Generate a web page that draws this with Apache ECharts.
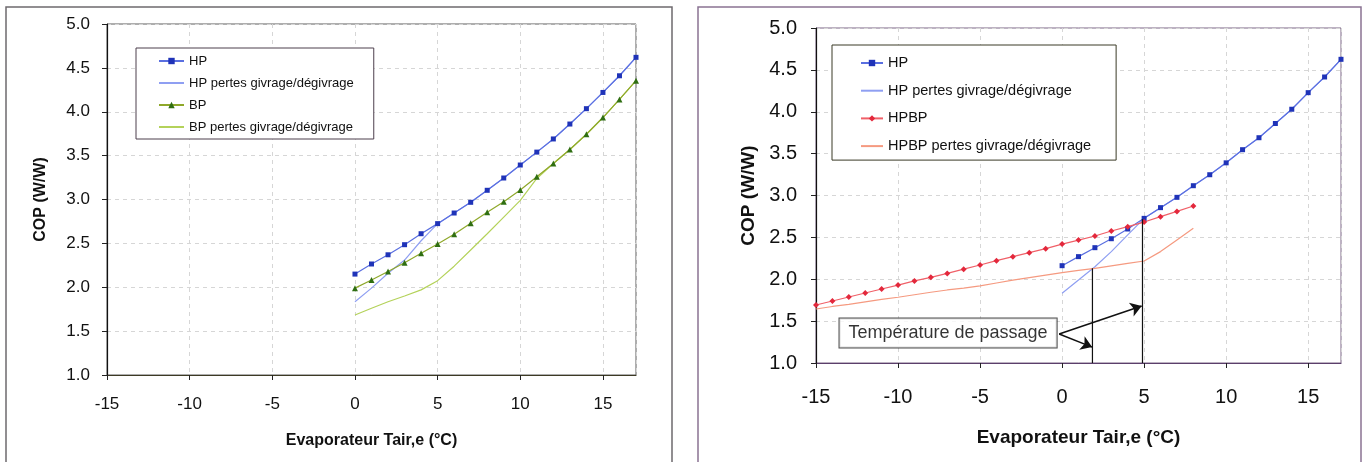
<!DOCTYPE html>
<html>
<head>
<meta charset="utf-8">
<script src="https://cdn.jsdelivr.net/npm/echarts@6/dist/echarts.min.js"></script>
<style>
html,body{margin:0;padding:0;background:#fff;}
#chart{width:1367px;height:462px;}
</style>
</head>
<body>
<div id="chart"></div>
<script>
// ---------- data ----------
const xTicks = [-15, -10, -5, 0, 5, 10, 15];
const yTicks = [1.0, 1.5, 2.0, 2.5, 3.0, 3.5, 4.0, 4.5, 5.0];

// Left chart
const xLeft = [0, 1, 2, 3, 4, 5, 6, 7, 8, 9, 10, 11, 12, 13, 14, 15, 16, 17];
const hpCOP = [2.15, 2.265, 2.37, 2.485, 2.61, 2.725, 2.846, 2.968, 3.105, 3.245, 3.393, 3.54, 3.69, 3.86, 4.035, 4.22, 4.41, 4.62];
const hpLossCOP = [1.835, 1.99, 2.16, 2.31, 2.53, 2.725, 2.846, 2.968, 3.105, 3.245, 3.393, 3.54, 3.69, 3.86, 4.035, 4.22, 4.41, 4.62];
const bpCOP = [1.99, 2.083, 2.18, 2.28, 2.387, 2.493, 2.603, 2.729, 2.854, 2.975, 3.108, 3.26, 3.41, 3.57, 3.744, 3.934, 4.14, 4.354];
const bpLossCOP = [1.684, 1.76, 1.835, 1.9, 1.97, 2.075, 2.24, 2.425, 2.61, 2.8, 2.99, 3.24, 3.41, 3.57, 3.744, 3.934, 4.14, 4.354];

// Right chart
const xRightHP = [0, 1, 2, 3, 4, 5, 6, 7, 8, 9, 10, 11, 12, 13, 14, 15, 16, 17];
const hpRightCOP = [2.162, 2.27, 2.377, 2.484, 2.6, 2.727, 2.855, 2.978, 3.117, 3.248, 3.39, 3.547, 3.69, 3.86, 4.03, 4.228, 4.415, 4.626];
const hpRightLossCOP = [1.832, 1.99, 2.15, 2.33, 2.53, 2.727, 2.855, 2.978, 3.117, 3.248, 3.39, 3.547, 3.69, 3.86, 4.03, 4.228, 4.415, 4.626];
const xHPBP = [-15, -14, -13, -12, -11, -10, -9, -8, -7, -6, -5, -4, -3, -2, -1, 0, 1, 2, 3, 4, 5, 6, 7, 8];
const hpbpCOP = [1.693, 1.74, 1.788, 1.836, 1.884, 1.93, 1.98, 2.023, 2.07, 2.12, 2.17, 2.222, 2.27, 2.317, 2.365, 2.42, 2.468, 2.516, 2.576, 2.628, 2.683, 2.747, 2.81, 2.875];
const hpbpLossCOP = [1.645, 1.675, 1.7, 1.73, 1.76, 1.785, 1.815, 1.845, 1.872, 1.895, 1.92, 1.955, 1.99, 2.02, 2.05, 2.08, 2.105, 2.13, 2.16, 2.19, 2.218, 2.33, 2.47, 2.608];

// Annotation ("Température de passage")
const passageX = [1.85, 4.9];
const passageTop = [2.13, 2.716];
const passageLabel = 'Température de passage';
const passageLabelPos = [-6.95, 1.358];
const arrowStart = [-0.18, 1.346];
const arrowEnds = [[4.85, 1.68], [1.83, 1.19]];

const legendLeft = ['HP', 'HP pertes givrage/dégivrage', 'BP', 'BP pertes givrage/dégivrage'];
const legendRight = ['HP', 'HP pertes givrage/dégivrage', 'HPBP', 'HPBP pertes givrage/dégivrage'];
const lineOnlyNames = ['HP pertes givrage/dégivrage', 'BP pertes givrage/dégivrage', 'HPBP pertes givrage/dégivrage'];

const xTitle = 'Evaporateur Tair,e (°C)';
const yTitle = 'COP (W/W)';

// ---------- helpers ----------
const pairs = (xs, ys) => xs.map((x, i) => [x, ys[i]]);
const FONT = '"Liberation Sans", Arial, sans-serif';
const legendItems = names => names.map(n => lineOnlyNames.indexOf(n) >= 0
  ? { name: n, itemStyle: { opacity: 0 } } : { name: n });

function xAxisCfg(gi, fs, titleFs, gap, margin, lineColor) {
  return {
    type: 'value', gridIndex: gi, min: xTicks[0], max: 17, interval: 5,
    name: xTitle, nameLocation: 'middle', nameGap: gap,
    nameTextStyle: { fontFamily: FONT, fontSize: titleFs, fontWeight: 'bold', color: '#111' },
    axisLine: { show: true, onZero: false, lineStyle: { color: lineColor, width: 1.2 } },
    axisTick: { show: true, length: 5, lineStyle: { color: '#222' } },
    axisLabel: { fontFamily: FONT, fontSize: fs, color: '#111', margin: margin,
      showMaxLabel: false,
      formatter: v => (xTicks.indexOf(v) >= 0 ? String(v) : '') },
    splitLine: { show: true, lineStyle: { color: '#d6d6d6', type: [4, 4], width: 1 } }
  };
}
function yAxisCfg(gi, fs, titleFs, gap, margin) {
  return {
    type: 'value', gridIndex: gi, min: yTicks[0], max: yTicks[yTicks.length - 1], interval: 0.5,
    name: yTitle, nameLocation: 'middle', nameGap: gap,
    nameTextStyle: { fontFamily: FONT, fontSize: titleFs, fontWeight: 'bold', color: '#111' },
    axisLine: { show: true, onZero: false, lineStyle: { color: '#111', width: 1.2 } },
    axisTick: { show: true, length: 5, lineStyle: { color: '#222' } },
    axisLabel: { fontFamily: FONT, fontSize: fs, color: '#111', margin: margin,
      formatter: v => v.toFixed(1) },
    splitLine: { show: true, lineStyle: { color: '#d6d6d6', type: [4, 4], width: 1 } }
  };
}

const C = {
  hpLine: '#5a6fe0', hpMark: '#1f33b8', hpLoss: '#8f9ff2',
  bpLine: '#8fa82a', bpMark: '#2f6e12', bpLoss: '#b4d25a',
  rLine: '#f06068', rMark: '#e3283c', rLoss: '#f59a80'
};

const chart = echarts.init(document.getElementById('chart'), null, { renderer: 'canvas' });
chart.setOption({
  animation: false,
  backgroundColor: '#fff',
  graphic: [
    { type: 'rect', shape: { x: 6, y: 7, width: 666, height: 470 }, style: { fill: 'none', stroke: '#6e6a6e', lineWidth: 1.5 }, z: -10 },
    { type: 'rect', shape: { x: 698, y: 7, width: 663, height: 470 }, style: { fill: 'none', stroke: '#8a7393', lineWidth: 1.5 }, z: -10 }
  ],
  grid: [
    { left: 107, right: 731, top: 24, bottom: 87, show: true, borderColor: '#5c5c5c', borderWidth: 1, backgroundColor: '#fff' },
    { left: 816, right: 26, top: 28, bottom: 99, show: true, borderColor: '#7a6585', borderWidth: 1, backgroundColor: '#fff' }
  ],
  xAxis: [
    xAxisCfg(0, 17, 16, 58, 21, '#3d3a24'),
    xAxisCfg(1, 20, 19, 65, 24, '#5b3f6b')
  ],
  yAxis: [
    yAxisCfg(0, 17, 16, 58, 17),
    yAxisCfg(1, 20, 19, 58, 19)
  ],
  legend: [
    {
      data: legendItems(legendLeft), orient: 'vertical', left: 136, top: 48,
      padding: [6, 20, 5, 22], itemGap: 8, itemWidth: 25, itemHeight: 8,
      borderColor: '#4d3f4d', borderWidth: 1, backgroundColor: '#fff',
      textStyle: { fontFamily: FONT, fontSize: 13, color: '#111', lineHeight: 14 },
      selectedMode: false
    },
    {
      data: legendItems(legendRight), orient: 'vertical', left: 832, top: 45,
      padding: [10, 25, 6, 28], itemGap: 11.7, itemWidth: 22, itemHeight: 8,
      borderColor: '#3a3a26', borderWidth: 1, backgroundColor: '#fff',
      textStyle: { fontFamily: FONT, fontSize: 14.5, color: '#111', lineHeight: 16 },
      selectedMode: false
    }
  ],
  series: [
    // left chart
    { name: 'HP pertes givrage/dégivrage', type: 'line', xAxisIndex: 0, yAxisIndex: 0, data: pairs(xLeft, hpLossCOP),
      symbol: 'none', lineStyle: { color: C.hpLoss, width: 1.2 }, itemStyle: { color: C.hpLoss }, z: 2 },
    { name: 'BP pertes givrage/dégivrage', type: 'line', xAxisIndex: 0, yAxisIndex: 0, data: pairs(xLeft, bpLossCOP),
      symbol: 'none', lineStyle: { color: C.bpLoss, width: 1.2 }, itemStyle: { color: C.bpLoss }, z: 2 },
    { name: 'HP', type: 'line', xAxisIndex: 0, yAxisIndex: 0, data: pairs(xLeft, hpCOP),
      symbol: 'rect', symbolSize: 5, lineStyle: { color: C.hpLine, width: 1.2 }, itemStyle: { color: C.hpMark }, z: 3 },
    { name: 'BP', type: 'line', xAxisIndex: 0, yAxisIndex: 0, data: pairs(xLeft, bpCOP),
      symbol: 'triangle', symbolSize: 6, lineStyle: { color: C.bpLine, width: 1.2 }, itemStyle: { color: C.bpMark }, z: 3 },
    // right chart
    { name: 'HP pertes givrage/dégivrage', type: 'line', xAxisIndex: 1, yAxisIndex: 1, data: pairs(xRightHP, hpRightLossCOP),
      symbol: 'none', lineStyle: { color: C.hpLoss, width: 1.2 }, itemStyle: { color: C.hpLoss }, z: 2 },
    { name: 'HPBP pertes givrage/dégivrage', type: 'line', xAxisIndex: 1, yAxisIndex: 1, data: pairs(xHPBP, hpbpLossCOP),
      symbol: 'none', lineStyle: { color: C.rLoss, width: 1.2 }, itemStyle: { color: C.rLoss }, z: 2 },
    { name: 'HP', type: 'line', xAxisIndex: 1, yAxisIndex: 1, data: pairs(xRightHP, hpRightCOP),
      symbol: 'rect', symbolSize: 5, lineStyle: { color: C.hpLine, width: 1.2 }, itemStyle: { color: C.hpMark }, z: 3 },
    { name: 'HPBP', type: 'line', xAxisIndex: 1, yAxisIndex: 1, data: pairs(xHPBP, hpbpCOP),
      symbol: 'diamond', symbolSize: 6, lineStyle: { color: C.rLine, width: 1.2 }, itemStyle: { color: C.rMark }, z: 3 },
    // passage temperature annotation
    { name: 'passage1', type: 'line', xAxisIndex: 1, yAxisIndex: 1, silent: true,
      data: [[passageX[0], yTicks[0]], [passageX[0], passageTop[0]]],
      symbol: 'none', lineStyle: { color: '#111', width: 1.2 }, z: 4 },
    { name: 'passage2', type: 'line', xAxisIndex: 1, yAxisIndex: 1, silent: true,
      data: [[passageX[1], yTicks[0]], [passageX[1], passageTop[1]]],
      symbol: 'none', lineStyle: { color: '#111', width: 1.2 }, z: 4 },
    { name: 'arrows', type: 'lines', coordinateSystem: 'cartesian2d', xAxisIndex: 1, yAxisIndex: 1, silent: true,
      symbol: ['none', 'arrow'], symbolSize: [0, 11],
      lineStyle: { color: '#111', width: 1.5, opacity: 1 },
      data: arrowEnds.map(e => ({ coords: [arrowStart, e] })), z: 5 },
    { name: 'passageLabel', type: 'scatter', xAxisIndex: 1, yAxisIndex: 1, silent: true,
      data: [passageLabelPos], symbolSize: 2, itemStyle: { color: 'rgba(255,255,255,0)' },
      label: { show: true, position: 'inside', formatter: passageLabel, fontFamily: FONT, fontSize: 18, color: '#000',
        backgroundColor: '#fff', borderColor: '#222', borderWidth: 1, padding: [6, 9, 5, 9] }, z: 6 }
  ]
});
</script>
</body>
</html>
